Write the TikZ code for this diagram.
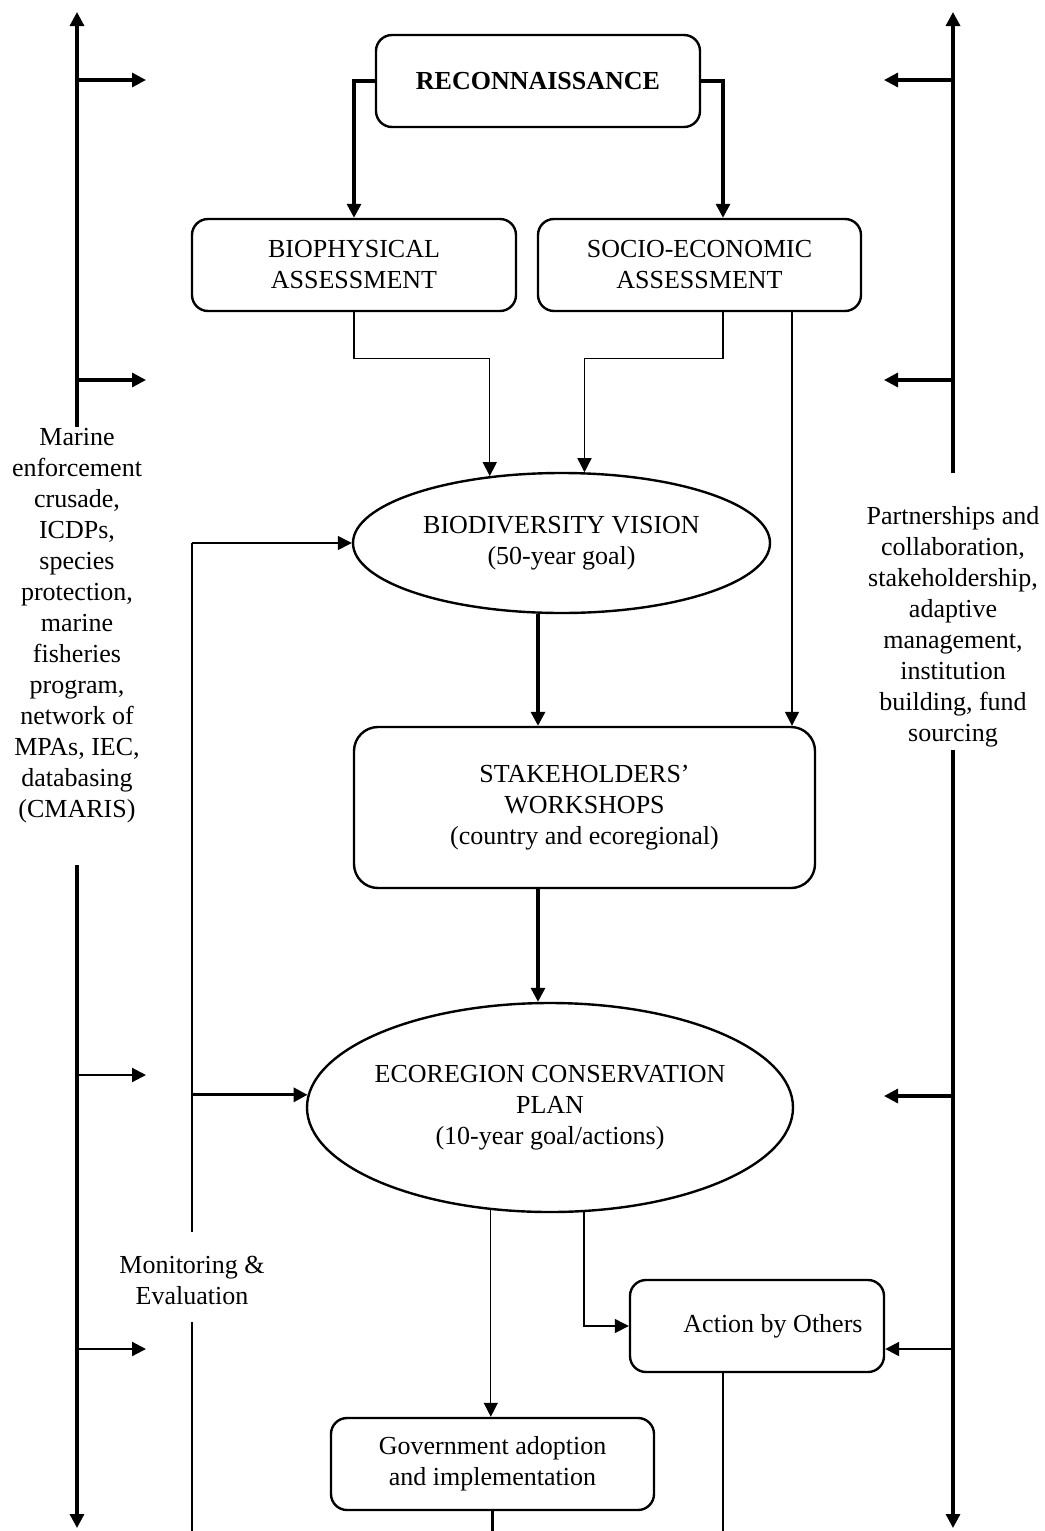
\documentclass[tikz,border=0pt]{standalone}
\usepackage{fontspec}
\setmainfont{Liberation Serif}
\usetikzlibrary{arrows.meta,shapes.geometric,calc}
\begin{document}
\begin{tikzpicture}[x=0.5pt,y=-0.5pt,
 every node/.style={font=\fontsize{13}{15.5}\selectfont},
 box/.style={draw,line width=1.2pt,rounded corners=8pt,align=center,inner sep=0pt},
 oval/.style={draw,ellipse,line width=1.2pt,align=center,inner sep=0pt},
 tip/.style={-{Triangle[length=7pt,width=7pt]}},
 thk/.style={line width=1.6pt},
 mid/.style={line width=1.1pt},
 thn/.style={line width=0.65pt},
 lbl/.style={align=center,inner sep=0pt}]
\useasboundingbox (0,0) rectangle (1044,1531);

% nodes
\node[box,minimum width=162pt,minimum height=46pt] (recon) at (538,81) {\textbf{RECONNAISSANCE}};
\node[box,minimum width=162pt,minimum height=46pt] (bio) at (354,265) {BIOPHYSICAL\\ASSESSMENT};
\node[box,minimum width=161.5pt,minimum height=46pt] (socio) at (699.5,265) {SOCIO-ECONOMIC\\ASSESSMENT};
\node[oval,minimum width=208.5pt,minimum height=70pt,
  label={[lbl]center:BIODIVERSITY VISION\\(50-year goal)}] (vision) at (561.5,543) {};
\node[box,rounded corners=12pt,minimum width=230.5pt,minimum height=80.5pt] (stake) at (584.5,807.5) {STAKEHOLDERS'\\WORKSHOPS\\(country and ecoregional)};
\node[oval,minimum width=243pt,minimum height=104.5pt,
  label={[lbl]center:ECOREGION CONSERVATION\\PLAN\\(10-year goal/actions)}] (eco) at (550,1107.5) {};
\node[box,minimum width=127pt,minimum height=46pt] (action) at (757,1326) {\hspace*{16pt}Action by Others};
\node[box,minimum width=161.5pt,minimum height=46pt] (gov) at (492.5,1464) {Government adoption\\and implementation};

\node[lbl] (ltext) at (77,625.5) {Marine\\enforcement\\crusade,\\ICDPs,\\species\\protection,\\marine\\fisheries\\program,\\network of\\MPAs, IEC,\\databasing\\(CMARIS)};
\node[lbl] (rtext) at (953,626.5) {Partnerships and\\collaboration,\\stakeholdership,\\adaptive\\management,\\institution\\building, fund\\sourcing};
\node[lbl] (mtext) at (192,1280) {Monitoring \&\\Evaluation};

% coordinates
\coordinate (bot) at (0,1531);
\coordinate (ltop) at (77,12);
\coordinate (lg1) at (77,427);
\coordinate (lg2) at (77,865);
\coordinate (lbot) at (77,1528);
\coordinate (rtop) at (953,12);
\coordinate (rg1) at (953,473);
\coordinate (rg2) at (953,750);
\coordinate (rbot) at (953,1528);
\coordinate (la1) at (77,80);   \coordinate (la1e) at (146,80);
\coordinate (la2) at (77,380);  \coordinate (la2e) at (146,380);
\coordinate (la3) at (77,1075); \coordinate (la3e) at (146,1075);
\coordinate (la4) at (77,1349); \coordinate (la4e) at (146,1349);
\coordinate (ra1) at (953,80);   \coordinate (ra1e) at (884,80);
\coordinate (ra2) at (953,380);  \coordinate (ra2e) at (884,380);
\coordinate (ra3) at (953,1096); \coordinate (ra3e) at (884,1096);
\coordinate (ra4) at (953,1349);
\coordinate (mtop) at (192,543);
\coordinate (mg1) at (192,1232);
\coordinate (mg2) at (192,1322);
\coordinate (cx) at (538,0);

% side lines
\draw[thk,tip] (lg1) -- (ltop);
\draw[thk,tip] (lg2) -- (lbot);
\draw[thk,tip] (rg1) -- (rtop);
\draw[thk,tip] (rg2) -- (rbot);
\draw[thk,tip] (la1) -- (la1e);
\draw[thk,tip] (la2) -- (la2e);
\draw[mid,tip] (la3) -- (la3e);
\draw[mid,tip] (la4) -- (la4e);
\draw[thk,tip] (ra1) -- (ra1e);
\draw[thk,tip] (ra2) -- (ra2e);
\draw[thk,tip] (ra3) -- (ra3e);
\draw[mid,tip] (ra4) -- (ra4 -| action.east);

% monitoring loop
\draw[thn] (mtop) -- (mg1);
\draw[mid] (mg2) -- (mg2 |- bot);
\draw[thn,tip] (mtop) -- (vision.west);
\draw[thk,tip] (mtop |- eco.177) -- (eco.177);

% main flow
\draw[thk,tip] (recon.west) -| (bio.north);
\draw[thk,tip] (recon.east) -| ([xshift=11.75pt]socio.north);
\draw[thn,tip] (bio.south) -- ++(0,46) -| (vision.137);
\draw[thn,tip] ([xshift=11.75pt]socio.south) -- ++(0,46) -| (vision.72);
\draw[thn,tip] ([xshift=46.25pt]socio.south) -- ([xshift=46.25pt]socio.south |- stake.north);
\draw[thk,tip] (vision.south -| cx) -- (stake.north -| cx);
\draw[thk,tip] (stake.south -| cx) -- (eco.north -| cx);
\draw[thn,tip] (eco.240) -- (eco.240 |- gov.north);
\draw[thn,tip] (eco.288) |- (action.west);
\draw[mid] ([xshift=-17pt]action.south) -- ([xshift=-17pt]action.south |- bot);
\draw[mid] (gov.south) -- (gov.south |- bot);
\end{tikzpicture}
\end{document}
